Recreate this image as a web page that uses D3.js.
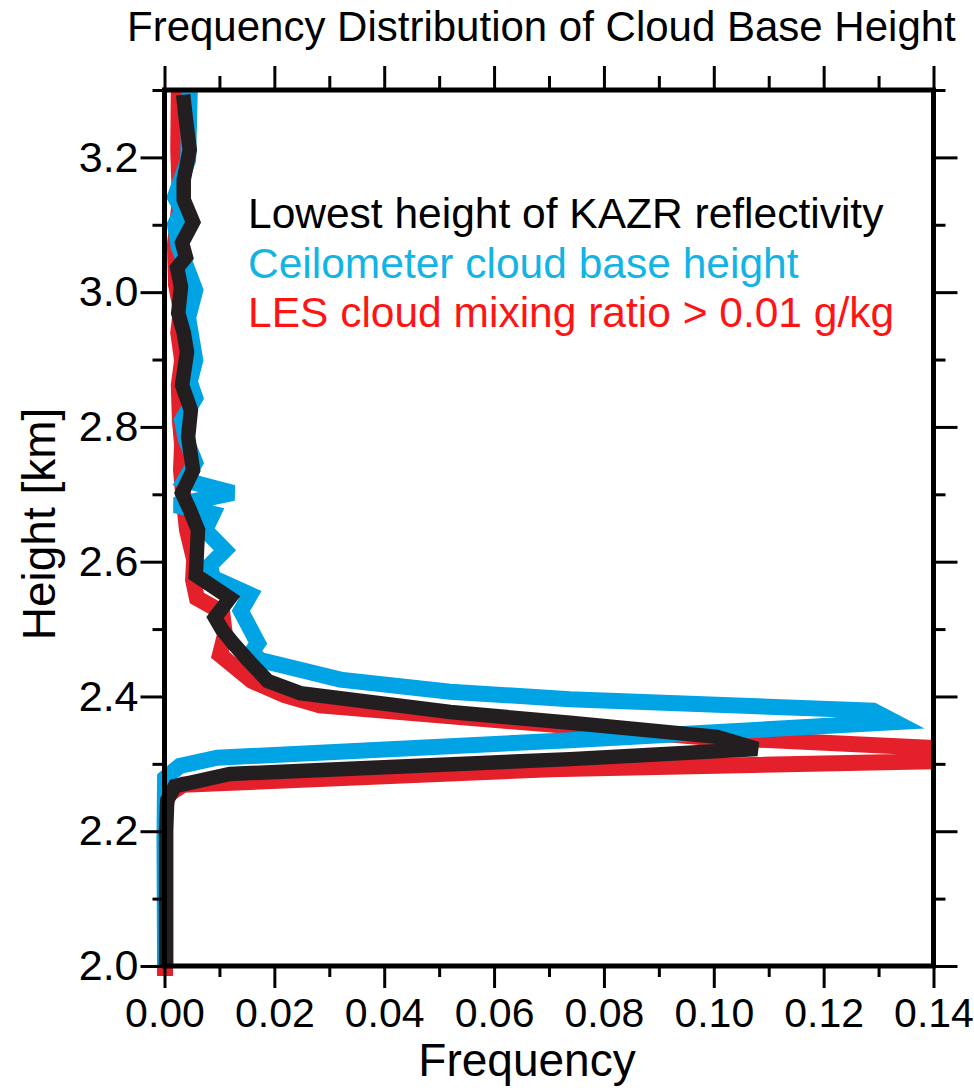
<!DOCTYPE html>
<html>
<head>
<meta charset="utf-8">
<script src="https://cdn.jsdelivr.net/npm/d3@7"></script>
<style>
  body { margin: 0; background: #fff; }
  svg { display: block; }
  text { font-family: "Liberation Sans", Arial, sans-serif; }
</style>
</head>
<body>
<svg id="chart" width="974" height="1088"></svg>
<script>
// Lowest height of KAZR reflectivity
const kazrHeight = [3.293, 3.256, 3.211, 3.167, 3.137, 3.104, 3.073, 3.052, 3.036, 3.008,
  2.969, 2.940, 2.911, 2.862, 2.825, 2.785, 2.736, 2.702, 2.677, 2.647,
  2.614, 2.580, 2.546, 2.517, 2.499, 2.479, 2.454, 2.423, 2.405, 2.377,
  2.361, 2.340, 2.322, 2.307, 2.285, 2.267, 2.246, 2.202, 2.000];
const kazrFreq = [0.0034, 0.0039, 0.0046, 0.0035, 0.0035, 0.0052, 0.0032, 0.0039, 0.0023, 0.0030,
  0.0025, 0.0035, 0.0041, 0.0032, 0.0048, 0.0043, 0.0052, 0.0032, 0.0046, 0.0061,
  0.0059, 0.0057, 0.0119, 0.0092, 0.0105, 0.0125, 0.0152, 0.0188, 0.0247, 0.0520,
  0.0738, 0.1006, 0.1079, 0.0738, 0.0119, 0.0019, 0.0005, 0.0003, 0.0003];

// Ceilometer cloud base height
const ceilHeight = [3.298, 3.196, 3.141, 3.122, 3.100, 3.067, 3.003, 2.962, 2.899, 2.867,
  2.843, 2.810, 2.781, 2.747, 2.721, 2.702, 2.684, 2.671, 2.647, 2.617,
  2.595, 2.576, 2.551, 2.527, 2.479, 2.466, 2.454, 2.425, 2.407, 2.396,
  2.379, 2.362, 2.335, 2.309, 2.297, 2.279, 2.187, 2.000];
const ceilFreq = [0.0046, 0.0043, 0.0019, 0.0032, 0.0019, 0.0026, 0.0056, 0.0043, 0.0056, 0.0046,
  0.0056, 0.0032, 0.0039, 0.0056, 0.0037, 0.0125, 0.0019, 0.0088, 0.0074, 0.0110,
  0.0083, 0.0088, 0.0156, 0.0139, 0.0170, 0.0159, 0.0174, 0.0320, 0.0520, 0.0738,
  0.1290, 0.1330, 0.0738, 0.0096, 0.0028, 0.0001, 0.0000, 0.0001];

// LES cloud mixing ratio > 0.01 g/kg
const lesHeight = [3.297, 3.211, 3.137, 3.070, 3.011, 2.974, 2.940, 2.899, 2.862, 2.810,
  2.773, 2.736, 2.692, 2.647, 2.603, 2.573, 2.546, 2.525, 2.491, 2.462,
  2.423, 2.402, 2.387, 2.356, 2.340, 2.310, 2.292, 2.269, 2.254, 2.232, 1.985];
const lesFreq = [0.0026, 0.0025, 0.0028, 0.0019, 0.0021, 0.0030, 0.0025, 0.0032, 0.0026, 0.0028,
  0.0032, 0.0030, 0.0035, 0.0041, 0.0054, 0.0052, 0.0059, 0.0105, 0.0110, 0.0101,
  0.0159, 0.0219, 0.0283, 0.0738, 0.0975, 0.1749, 0.0702, 0.0034, 0.0006, 0.0001, 0.0001];

const heightMajor = [2.0, 2.2, 2.4, 2.6, 2.8, 3.0, 3.2];
const heightMinor = [2.1, 2.3, 2.5, 2.7, 2.9, 3.1, 3.3];
const freqMajor = [0.00, 0.02, 0.04, 0.06, 0.08, 0.10, 0.12, 0.14];
const freqMinor = [0.01, 0.03, 0.05, 0.07, 0.09, 0.11, 0.13];

const legendLabels = ["Lowest height of KAZR reflectivity",
  "Ceilometer cloud base height",
  "LES cloud mixing ratio > 0.01 g/kg"];

const lineColor = { kazr: "#231f20", ceil: "#00a3e4", les: "#e4212b" };
const textColor = ["#000000", "#12b4e6", "#ff1414"];

const svg = d3.select("#chart");
const W = 974, H = 1088;
const plot = { left: 164.5, right: 933.5, top: 90, bottom: 966 };

const x = d3.scaleLinear().domain([0, 0.14]).range([plot.left, plot.right]);
const y = d3.scaleLinear().domain([2.0, 3.3]).range([plot.bottom, plot.top]);

// clip only on the right edge: profiles may run past the frame top/bottom
svg.append("defs").append("clipPath").attr("id", "clipRight")
  .append("rect").attr("x", 0).attr("y", 0)
  .attr("width", plot.right).attr("height", H);

const line = d3.line().x(d => x(d[1])).y(d => y(d[0]));

const series = [
  { h: lesHeight, f: lesFreq, color: lineColor.les, width: 16 },
  { h: ceilHeight, f: ceilFreq, color: lineColor.ceil, width: 16 },
  { h: kazrHeight, f: kazrFreq, color: lineColor.kazr, width: 14.5 }
];

const lines = svg.append("g").attr("clip-path", "url(#clipRight)");
series.forEach(s => {
  lines.append("path")
    .datum(d3.zip(s.h, s.f))
    .attr("d", line)
    .attr("fill", "none")
    .attr("stroke", s.color)
    .attr("stroke-width", s.width)
    .attr("stroke-linejoin", "miter")
    .attr("stroke-linecap", "butt");
});

// axes: outward ticks on all four sides
function styleAxis(size) {
  return g => {
    g.select(".domain").remove();
    g.selectAll(".tick line").attr("stroke", "#000").attr("stroke-width", 3);
    g.selectAll(".tick text").attr("fill", "#000")
      .style("font-family", '"Liberation Sans", Arial, sans-serif')
      .style("font-size", size + "px");
  };
}

svg.append("g").attr("transform", `translate(${plot.left},0)`)
  .call(d3.axisLeft(y).tickValues(heightMinor).tickSize(12).tickFormat(""))
  .call(styleAxis(43));
svg.append("g").attr("transform", `translate(${plot.left},0)`)
  .call(d3.axisLeft(y).tickValues(heightMajor).tickSize(24).tickPadding(2).tickFormat(d3.format(".1f")))
  .call(styleAxis(43));
svg.append("g").attr("transform", `translate(${plot.right},0)`)
  .call(d3.axisRight(y).tickValues(heightMinor).tickSize(12).tickFormat(""))
  .call(styleAxis(43));
svg.append("g").attr("transform", `translate(${plot.right},0)`)
  .call(d3.axisRight(y).tickValues(heightMajor).tickSize(24).tickFormat(""))
  .call(styleAxis(43));

svg.append("g").attr("transform", `translate(0,${plot.bottom})`)
  .call(d3.axisBottom(x).tickValues(freqMinor).tickSize(11).tickFormat(""))
  .call(styleAxis(41));
svg.append("g").attr("transform", `translate(0,${plot.bottom})`)
  .call(d3.axisBottom(x).tickValues(freqMajor).tickSize(22).tickPadding(10).tickFormat(d3.format(".2f")))
  .call(styleAxis(41));
svg.append("g").attr("transform", `translate(0,${plot.top})`)
  .call(d3.axisTop(x).tickValues(freqMinor).tickSize(14).tickFormat(""))
  .call(styleAxis(41));
svg.append("g").attr("transform", `translate(0,${plot.top})`)
  .call(d3.axisTop(x).tickValues(freqMajor).tickSize(24).tickFormat(""))
  .call(styleAxis(41));

// frame
svg.append("rect")
  .attr("x", plot.left).attr("y", plot.top)
  .attr("width", plot.right - plot.left).attr("height", plot.bottom - plot.top)
  .attr("fill", "none").attr("stroke", "#000").attr("stroke-width", 5);

// titles
svg.append("text").attr("x", 127).attr("y", 41)
  .style("font-size", "42px").attr("fill", "#000")
  .text("Frequency Distribution of Cloud Base Height");

svg.append("text").attr("x", (plot.left + plot.right) / 2 - 22).attr("y", 1076)
  .attr("text-anchor", "middle").style("font-size", "46px").attr("fill", "#000")
  .text("Frequency");

svg.append("text")
  .attr("transform", "translate(55,524) rotate(-90)")
  .attr("text-anchor", "middle").style("font-size", "46px").attr("fill", "#000")
  .text("Height [km]");

// legend text
svg.append("g").selectAll("text").data(legendLabels).join("text")
  .attr("x", 248).attr("y", (d, i) => 228 + i * 49.5)
  .style("font-size", "42.5px")
  .attr("fill", (d, i) => textColor[i])
  .text(d => d);
</script>
</body>
</html>
